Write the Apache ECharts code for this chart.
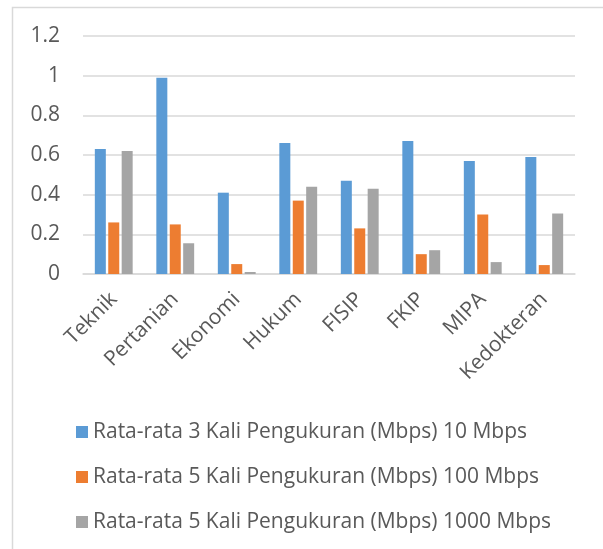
<!DOCTYPE html>
<html>
<head>
<meta charset="utf-8">
<script src="https://cdn.jsdelivr.net/npm/echarts@6/dist/echarts.min.js"></script>
<style>
html,body{margin:0;padding:0;background:#fff;}
#chart{width:603px;height:549px;}
</style>
</head>
<body>
<div id="chart"></div>
<script>
var categories = ['Teknik','Pertanian','Ekonomi','Hukum','FISIP','FKIP','MIPA','Kedokteran'];
var seriesNames = [
  'Rata-rata 3 Kali Pengukuran (Mbps) 10 Mbps',
  'Rata-rata 5 Kali Pengukuran (Mbps) 100 Mbps',
  'Rata-rata 5 Kali Pengukuran (Mbps) 1000 Mbps'
];
var values10 = [0.63, 0.99, 0.41, 0.66, 0.47, 0.67, 0.57, 0.59];
var values100 = [0.26, 0.25, 0.05, 0.37, 0.23, 0.10, 0.30, 0.045];
var values1000 = [0.62, 0.155, 0.01, 0.44, 0.43, 0.12, 0.06, 0.305];
var yTicks = [0, 0.2, 0.4, 0.6, 0.8, 1, 1.2];

var colors = ['#5b9bd5', '#ed7d31', '#a5a5a5'];
var font = 'Open Sans';
var chart = echarts.init(document.getElementById('chart'), null, {renderer: 'canvas'});
var dataSets = [values10, values100, values1000];
chart.setOption({
  animation: false,
  color: colors,
  graphic: [{
    type: 'rect',
    shape: {x: 12.5, y: 7.5, width: 600, height: 560},
    style: {fill: 'none', stroke: '#d9d9d9', lineWidth: 1.5},
    silent: true
  }],
  grid: {left: 83, right: 28, top: 36, bottom: 275, containLabel: false},
  xAxis: {
    type: 'category',
    data: categories,
    axisLine: {lineStyle: {color: '#d9d9d9', width: 1.5}},
    axisTick: {show: false},
    axisLabel: {
      rotate: 45,
      interval: 0,
      margin: 22,
      color: '#595959',
      fontFamily: font,
      fontSize: 21
    }
  },
  yAxis: {
    type: 'value',
    min: yTicks[0],
    max: yTicks[yTicks.length - 1],
    interval: 0.2,
    axisLine: {show: false},
    axisTick: {show: false},
    splitLine: {lineStyle: {color: '#d9d9d9', width: 1.5}},
    axisLabel: {
      margin: 23,
      color: '#595959',
      fontFamily: font,
      fontSize: 21,
      formatter: function (v) { return String(Math.round(v * 10) / 10); }
    }
  },
  legend: {
    orient: 'vertical',
    left: 71,
    top: 415,
    icon: 'rect',
    itemWidth: 12,
    itemHeight: 12,
    itemGap: 21,
    textStyle: {
      color: '#595959',
      fontFamily: font,
      fontSize: 21,
      lineHeight: 24
    },
    data: seriesNames
  },
  series: seriesNames.map(function (n, i) {
    return {
      name: n,
      type: 'bar',
      data: dataSets[i],
      barWidth: 11,
      barGap: '22%',
      itemStyle: {color: colors[i]}
    };
  })
});
</script>
</body>
</html>
